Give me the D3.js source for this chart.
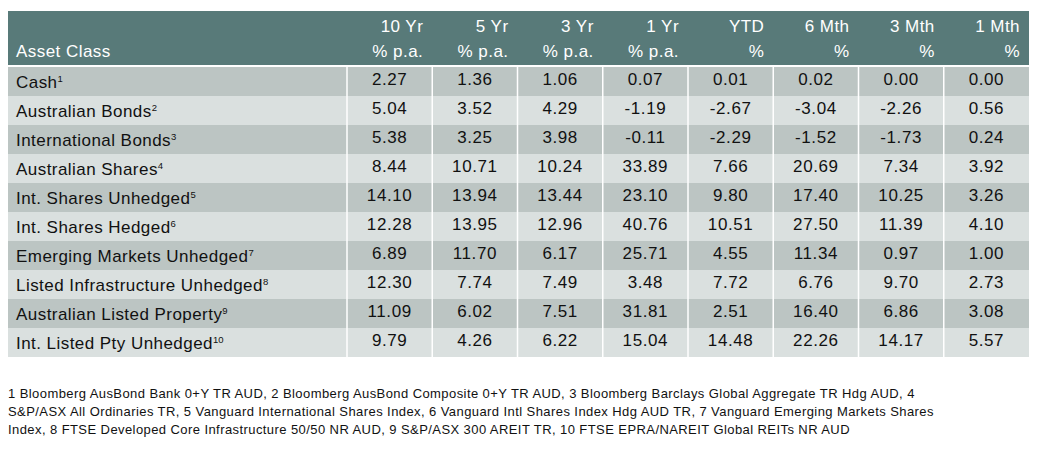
<!DOCTYPE html>
<html><head><meta charset="utf-8">
<script src="https://cdn.jsdelivr.net/npm/d3@7"></script>
<style>
html,body{margin:0;padding:0;background:#fff;}
svg{display:block;font-family:"Liberation Sans",Arial,sans-serif;}
</style></head>
<body>
<svg id="chart" width="1038" height="460"></svg>
<script>
const assets = ["Cash","Australian Bonds","International Bonds","Australian Shares","Int. Shares Unhedged","Int. Shares Hedged","Emerging Markets Unhedged","Listed Infrastructure Unhedged","Australian Listed Property","Int. Listed Pty Unhedged"];
const notes = ["1","2","3","4","5","6","7","8","9","10"];
const periods = ["10 Yr","5 Yr","3 Yr","1 Yr","YTD","6 Mth","3 Mth","1 Mth"];
const units = ["% p.a.","% p.a.","% p.a.","% p.a.","%","%","%","%"];
const tenYr = [2.27,5.04,5.38,8.44,14.10,12.28,6.89,12.30,11.09,9.79];
const fiveYr = [1.36,3.52,3.25,10.71,13.94,13.95,11.70,7.74,6.02,4.26];
const threeYr = [1.06,4.29,3.98,10.24,13.44,12.96,6.17,7.49,7.51,6.22];
const oneYr = [0.07,-1.19,-0.11,33.89,23.10,40.76,25.71,3.48,31.81,15.04];
const ytd = [0.01,-2.67,-2.29,7.66,9.80,10.51,4.55,7.72,2.51,14.48];
const sixMth = [0.02,-3.04,-1.52,20.69,17.40,27.50,11.34,6.76,16.40,22.26];
const threeMth = [0.00,-2.26,-1.73,7.34,10.25,11.39,0.97,9.70,6.86,14.17];
const oneMth = [0.00,0.56,0.24,3.92,3.26,4.10,1.00,2.73,3.08,5.57];
const footnotes = [
 "1 Bloomberg AusBond Bank 0+Y TR AUD, 2 Bloomberg AusBond Composite 0+Y TR AUD, 3 Bloomberg Barclays Global Aggregate TR Hdg AUD, 4",
 "S&P/ASX All Ordinaries TR, 5 Vanguard International Shares Index, 6 Vanguard Intl Shares Index Hdg AUD TR, 7 Vanguard Emerging Markets Shares",
 "Index, 8 FTSE Developed Core Infrastructure 50/50 NR AUD, 9 S&P/ASX 300 AREIT TR, 10 FTSE EPRA/NAREIT Global REITs NR AUD"
];
const series = [tenYr,fiveYr,threeYr,oneYr,ytd,sixMth,threeMth,oneMth];

const svg = d3.select("#chart");
const left = 8, labelW = 339, right = 1029;
const headTop = 11, headBottom = 65, bodyTop = 67, bodyBottom = 357;
const x = d3.scaleBand().domain(periods).range([left+labelW, right]);
const y = d3.scaleBand().domain(assets).range([bodyTop, bodyBottom]);
const LS = 0.45;

// header
svg.append("rect").attr("x",left).attr("y",headTop).attr("width",right-left).attr("height",headBottom-headTop).attr("fill","#587a79");
svg.append("text").attr("x",16).attr("y",57).attr("fill","#fff").attr("font-size",17).attr("letter-spacing",LS).text("Asset Class");
periods.forEach((p,i)=>{
  const xr = x(p)+x.bandwidth()-9;
  svg.append("text").attr("x",xr).attr("y",32).attr("text-anchor","end").attr("fill","#fff").attr("font-size",17).attr("letter-spacing",LS).text(p);
  svg.append("text").attr("x",xr).attr("y",57).attr("text-anchor","end").attr("fill","#fff").attr("font-size",17).attr("letter-spacing",LS).text(units[i]);
});

// rows
assets.forEach((a,r)=>{
  svg.append("rect").attr("x",left).attr("y",y(a)).attr("width",right-left).attr("height",y.bandwidth())
    .attr("fill", r%2===0 ? "#bcc5c3" : "#dae0df");
  const t = svg.append("text").attr("x",16).attr("y",y(a)+20.5).attr("fill","#111").attr("font-size",17).attr("letter-spacing",LS);
  t.append("tspan").text(a);
  t.append("tspan").attr("font-size",9.5).attr("letter-spacing",0).attr("dy",-6).text(notes[r]);
  series.forEach((s,c)=>{
    svg.append("text").attr("x",x(periods[c])+x.bandwidth()/2).attr("y",y(a)+17.5).attr("text-anchor","middle")
      .attr("fill","#111").attr("font-size",17).attr("letter-spacing",0.6).text(s[r].toFixed(2));
  });
});
// vertical separators
[left+labelW].concat(periods.slice(1).map(p=>x(p))).forEach(xx=>{
  svg.append("line").attr("x1",xx).attr("x2",xx).attr("y1",bodyTop).attr("y2",bodyBottom).attr("stroke","#fff").attr("stroke-width",1.5);
});
// footnotes
footnotes.forEach((f,i)=>{
  svg.append("text").attr("x",8).attr("y",398+i*18).attr("fill","#111").attr("font-size",13).attr("letter-spacing",0.42).text(f);
});
</script>
</body></html>
